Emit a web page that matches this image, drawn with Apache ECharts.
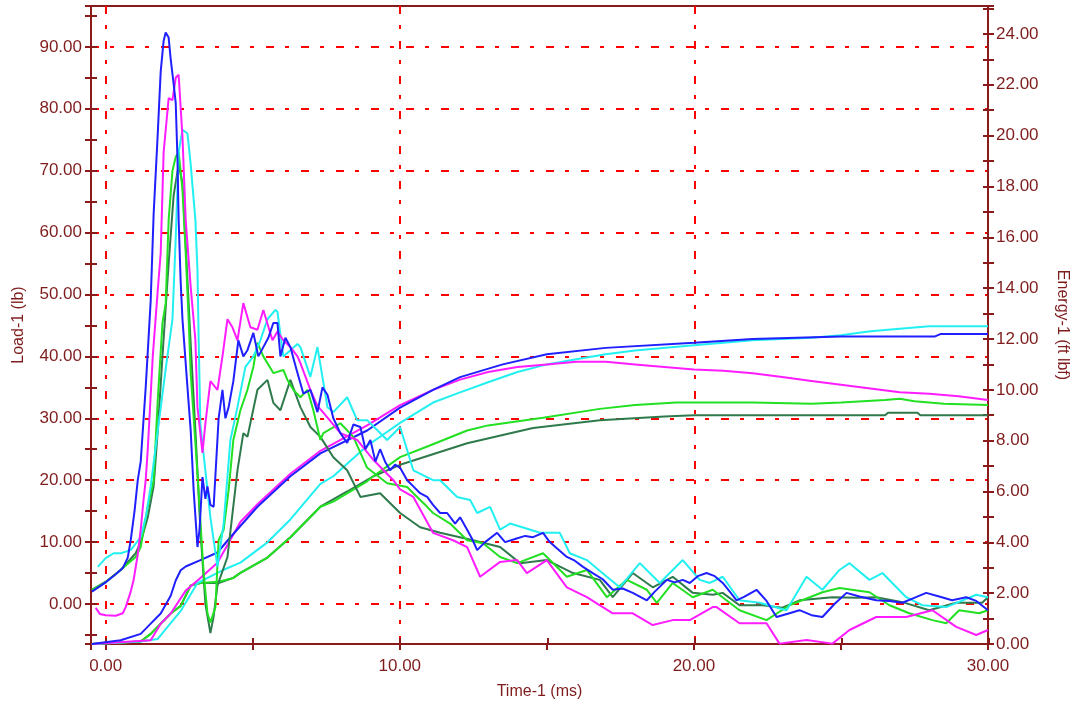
<!DOCTYPE html>
<html>
<head>
<meta charset="utf-8">
<title>Load / Energy vs Time</title>
<script src="https://cdn.jsdelivr.net/npm/echarts@6/dist/echarts.min.js"></script>
<style>
  html, body { margin: 0; padding: 0; background: #fff; }
  #chart { width: 1078px; height: 713px; }
</style>
</head>
<body>
<div id="chart"></div>
<script>
// axis ranges and tick labels
var timeRange = [-0.5, 30];
var loadRange = [-6.46, 96.6];
var energyRange = [0, 25.1];
var timeLabels = [0, 10, 20, 30];
var loadLabels = [0, 10, 20, 30, 40, 50, 60, 70, 80, 90];
var energyLabels = [0, 2, 4, 6, 8, 10, 12, 14, 16, 18, 20, 22, 24];

// Load-1 (lb) curves, [time ms, load lb]
var loadBlue = [[-0.47,2.0],[0,3.5],[0.34,4.8],[0.58,5.8],[0.75,7.5],[0.85,10.3],[0.98,15],[1.09,20],[1.19,23],[1.36,35],[1.53,49],[1.63,63],[1.77,76],[1.87,86],[1.97,91],[2.04,92.3],[2.14,91.5],[2.21,88],[2.31,84],[2.38,81],[2.44,72],[2.48,62],[2.55,52],[2.61,46],[2.78,35],[2.89,28],[2.99,18.4],[3.12,9.2],[3.19,12],[3.29,20.5],[3.39,17],[3.46,19],[3.56,16],[3.67,15.7],[3.84,30],[3.97,34.6],[4.07,30],[4.18,31.8],[4.34,36],[4.51,42.6],[4.68,40],[4.82,41],[5.02,43.8],[5.19,40],[5.36,41.5],[5.53,43],[5.70,45.4],[5.84,45.4],[5.94,40],[6.11,43],[6.28,41.5],[6.48,38],[6.72,34],[6.96,34.6],[7.20,31],[7.37,35],[7.54,33.8],[7.74,30],[7.98,27.6],[8.21,26],[8.42,29],[8.66,28.6],[8.83,25],[9.00,26.5],[9.17,23],[9.33,25],[9.50,23],[9.67,21.6],[9.84,22.5],[10.01,22],[10.25,20],[10.46,19],[10.69,17.9],[10.93,17.3],[11.13,16],[11.37,14.7],[11.61,14.7],[11.88,13],[12.05,14],[12.29,12],[12.46,10.5],[12.63,8.7],[12.90,10],[13.31,11.5],[13.58,10],[13.92,10.5],[14.26,11],[14.53,10.8],[14.87,11.5],[15.10,10],[15.34,9],[15.68,7.6],[15.95,7],[16.23,6],[16.56,5],[16.90,4],[17.24,2.3],[17.58,2.5],[17.92,1.8],[18.16,1.2],[18.40,0.6],[18.67,2],[19.08,3.9],[19.35,3.5],[19.62,3.9],[19.86,3.4],[20.13,4.5],[20.43,5],[20.71,4.5],[20.98,3.4],[21.22,2],[21.45,0.6],[21.72,1.2],[22.13,2.3],[22.47,0.5],[22.81,-2.1],[23.25,-1.5],[23.59,-1],[24.00,-1.8],[24.37,-2.1],[24.78,0],[25.19,1.8],[25.63,1.2],[26.20,0.6],[26.65,0.5],[27.09,0.2],[27.49,1],[27.90,1.8],[28.34,1.2],[28.78,0.6],[29.26,1.1],[29.60,0.5],[30.00,-1]];
var loadMagenta = [[-0.34,-0.6],[-0.2,-1.6],[0,-1.8],[0.34,-1.9],[0.58,-1.5],[0.68,-0.5],[0.85,2],[0.95,3.9],[1.09,8],[1.19,12],[1.29,17],[1.36,20],[1.43,25],[1.60,40],[1.77,50.7],[1.87,56.7],[1.97,73],[2.14,81.7],[2.27,81.4],[2.38,85],[2.48,85.5],[2.61,75.5],[2.72,62],[2.89,51.2],[3.05,42.6],[3.12,31.8],[3.29,24.4],[3.39,29.2],[3.56,36],[3.80,34.6],[3.97,40],[4.14,46],[4.31,44.7],[4.48,42.6],[4.68,48.6],[4.92,44.7],[5.16,44.3],[5.36,47.5],[5.67,42.6],[5.84,44],[6.04,42.6],[6.28,41.5],[6.52,40],[6.62,38.9],[6.96,34.6],[7.20,32],[7.40,30.9],[7.98,27.6],[8.55,26.5],[9.10,23.3],[9.78,20],[10.01,18.5],[10.46,17.3],[11.13,11.5],[11.81,10.3],[12.29,9.2],[12.73,4.4],[13.41,6.8],[13.99,7.1],[14.32,5],[15.00,7.1],[15.68,2.7],[16.36,1.1],[17.24,-1.5],[17.92,-1.5],[18.60,-3.4],[19.28,-2.6],[19.86,-2.6],[20.64,-0.5],[20.77,-0.5],[21.55,-3.1],[22.47,-3.1],[22.91,-6.4],[23.83,-5.8],[24.71,-6.4],[25.29,-4.2],[26.20,-2.1],[27.22,-2.1],[28.11,-1],[28.92,-3.7],[29.60,-5],[30.00,-4.2]];
var loadCyan = [[-0.27,6],[0,7.4],[0.27,8.2],[0.51,8.2],[0.85,8.7],[1.19,10.8],[1.36,14],[1.53,19],[1.77,28],[2.04,38],[2.27,46],[2.38,59],[2.48,73],[2.61,76.6],[2.78,76],[2.89,71],[3.05,62],[3.12,54],[3.16,43],[3.22,29],[3.56,14],[3.80,6],[4.01,13],[4.24,26.5],[4.48,31.8],[4.75,38.3],[5.02,40],[5.26,42.6],[5.50,46],[5.77,47.5],[5.84,47.2],[6.04,40],[6.52,42],[6.62,41.5],[6.96,36.7],[7.20,41.5],[7.54,31.8],[7.74,31],[8.21,33.4],[8.55,29.7],[8.89,29.7],[9.57,26.5],[10.01,28.6],[10.46,21.6],[11.13,20],[11.37,20],[11.95,17.3],[12.39,16.8],[12.63,14.7],[13.07,15.7],[13.41,12],[13.75,13],[14.77,11.5],[15.44,11.5],[15.78,8.2],[16.36,7.1],[17.04,4.4],[17.48,2.7],[18.16,6.6],[18.84,3.4],[19.62,7.1],[20.20,3.9],[20.54,3.4],[20.98,4.4],[21.55,0.6],[22.23,0.2],[23.15,-1],[23.83,4.4],[24.37,2.3],[24.95,5.5],[25.29,6.6],[25.97,3.9],[26.41,5],[27.22,1.1],[27.77,-0.2],[28.58,-0.5],[29.60,1.5],[30.00,1.1]];
var loadGreen = [[-0.47,2.3],[0,3.5],[0.51,5.5],[0.75,6.5],[1.02,7.6],[1.19,9.2],[1.43,15.7],[1.63,20],[1.77,33],[1.93,45.4],[2.04,48.6],[2.14,62],[2.27,70],[2.38,72.2],[2.48,73],[2.61,67],[2.72,56.7],[2.82,46],[2.89,37.3],[3.12,21],[3.33,5],[3.46,-1.5],[3.56,-3],[3.73,-0.5],[3.84,10.3],[4.01,12],[4.18,18.4],[4.34,26.5],[4.58,31.3],[4.82,34.6],[5.02,38.3],[5.16,42.2],[5.36,40],[5.70,37.3],[6.04,37.8],[6.18,36.2],[6.38,34.6],[6.62,33.4],[6.86,34.6],[7.06,31.3],[7.30,26.5],[7.40,27.6],[7.98,29.2],[8.42,27],[8.89,22],[9.57,19.5],[10.25,18.9],[10.46,17.9],[10.93,15.7],[11.13,14.7],[11.71,13],[12.29,10.3],[12.83,9.8],[13.41,7.6],[13.99,6.6],[14.87,8.2],[15.68,4.4],[16.36,5.5],[17.04,1.1],[17.72,3.9],[18.40,2.3],[18.74,0.2],[19.28,3.4],[19.96,1.1],[20.64,2.3],[21.55,-1],[22.47,-2.6],[23.25,-0.2],[24.37,1.9],[24.95,2.6],[25.97,1.9],[26.65,-0.2],[27.32,-1.5],[28.11,-2.6],[28.58,-3.1],[29.02,-1],[29.70,-1.5],[30.00,-1]];
var loadDarkGreen = [[-0.47,2.3],[0,3.6],[0.51,5.5],[1.02,8.2],[1.19,10],[1.43,14],[1.63,19],[1.77,28],[1.93,40],[2.14,55],[2.31,66],[2.48,71],[2.61,68],[2.72,58],[2.89,42],[3.05,28],[3.22,12],[3.39,0],[3.56,-4.7],[3.67,-2],[3.80,3],[4.14,7.6],[4.48,21.6],[4.68,27.6],[4.82,27],[5.16,34.6],[5.50,36.2],[5.70,32.5],[5.94,31.3],[6.28,36.2],[6.62,31.8],[6.96,28.6],[7.30,27],[7.74,23.7],[8.21,21.6],[8.66,17.3],[9.33,17.9],[10.01,14.7],[10.69,12.4],[11.37,11.5],[12.49,10.3],[13.41,9.2],[14.09,6.6],[15.00,7.1],[15.89,5],[16.80,3.9],[17.24,1.1],[17.92,5],[18.60,2.7],[19.28,4.4],[19.96,1.8],[20.64,1.5],[20.98,1.8],[21.55,-0.2],[22.34,-0.2],[23.01,-0.6],[23.59,0.6],[24.71,1.1],[25.53,1],[26.20,1.1],[27.09,0.3],[28.00,-1],[28.92,0.2],[29.80,0.2],[30.00,1.1]];

// Energy-1 (ft lbf) curves, [time ms, energy ft lbf]
var energyBlue = [[-0.47,0],[0.51,0.15],[1.19,0.4],[1.53,0.8],[1.87,1.2],[2.21,1.9],[2.38,2.5],[2.55,2.9],[2.72,3.05],[3.22,3.3],[3.80,3.6],[4.24,4.2],[5.16,5.4],[6.28,6.6],[7.30,7.5],[8.89,8.4],[10.01,9.3],[11.13,10.0],[12.05,10.5],[13.5,11.0],[15.0,11.4],[17.0,11.65],[20.0,11.85],[22.0,12.0],[25.0,12.1],[28.2,12.1],[28.4,12.2],[30.0,12.2]];
var energyMagenta = [[-0.47,0],[1.53,0.15],[1.87,0.8],[2.21,1.2],[2.72,2.1],[3.22,2.6],[3.80,3.2],[4.58,4.8],[5.16,5.5],[6.28,6.7],[7.30,7.6],[8.89,8.6],[10.01,9.4],[11.13,10.0],[12.05,10.4],[13.0,10.7],[14.0,10.9],[15.0,11.0],[16.0,11.1],[17.0,11.1],[18.0,11.0],[19.0,10.9],[20.0,10.8],[21.0,10.75],[22.0,10.65],[23.0,10.5],[24.0,10.35],[25.0,10.2],[26.0,10.05],[27.0,9.9],[28.0,9.85],[29.0,9.75],[30.0,9.6]];
var energyCyan = [[-0.47,0],[1.19,0.1],[1.77,0.2],[2.55,1.3],[3.12,2.4],[3.97,2.9],[4.58,3.2],[5.50,4.0],[6.28,4.9],[7.30,6.3],[7.74,6.6],[8.89,7.8],[10.01,8.7],[11.13,9.5],[12.05,9.9],[13.0,10.3],[14.0,10.7],[15.0,11.0],[16.0,11.2],[17.0,11.4],[18.0,11.55],[20.0,11.75],[22.0,11.95],[24.0,12.05],[25.0,12.15],[26.0,12.3],[27.0,12.4],[28.0,12.5],[30.0,12.5]];
var energyGreen = [[-0.47,0],[1.19,0.1],[1.53,0.4],[2.21,1.2],[2.55,1.5],[2.89,2.3],[3.22,2.4],[3.84,2.45],[4.34,2.6],[4.58,2.8],[5.50,3.4],[6.28,4.2],[7.30,5.4],[7.74,5.6],[8.89,6.4],[9.10,6.6],[10.01,7.35],[11.0,7.8],[12.29,8.4],[13.0,8.6],[14.87,8.9],[16.80,9.25],[18.0,9.4],[19.4,9.5],[22.0,9.5],[24.0,9.45],[25.0,9.5],[26.5,9.6],[27.0,9.65],[27.5,9.55],[28.5,9.45],[30.0,9.4]];
var energyDarkGreen = [[-0.47,0],[1.19,0.1],[1.53,0.4],[2.21,1.2],[2.55,1.5],[2.89,2.3],[3.22,2.4],[3.84,2.4],[4.34,2.6],[4.58,2.8],[5.50,3.4],[6.28,4.2],[7.30,5.4],[8.21,6.0],[9.10,6.6],[10.01,7.05],[12.29,7.9],[14.53,8.5],[16.80,8.8],[19.0,8.95],[20.0,9.0],[26.5,9.0],[26.6,9.1],[27.6,9.1],[27.7,9.0],[30.0,9.0]];

var MAROON = '#7f1d1d';
var AXIS_DARK = '#8b1a1a';
var FONT = '"Liberation Sans", Arial, sans-serif';
var COLORS = {
  blue: '#1f1fff',
  magenta: '#ff1cff',
  cyan: '#22f0f0',
  green: '#22e022',
  darkGreen: '#2f7a4c'
};

function inList(list) {
  return function (v) {
    for (var i = 0; i < list.length; i++) {
      if (Math.abs(list[i] - v) < 1e-6) return v.toFixed(2);
    }
    return '';
  };
}

var plotBox = { left: 91, right: 89, top: 6, bottom: 69 };
var tickStyle = { color: AXIS_DARK, width: 2 };
var gridDash = { color: '#ff0000', width: 2, type: [8, 11, 4, 12] };

function lineSeries(name, data, color, yIdx) {
  return {
    name: name,
    type: 'line',
    xAxisIndex: 0,
    yAxisIndex: yIdx,
    data: data,
    showSymbol: false,
    symbol: 'none',
    clip: true,
    lineStyle: { color: color, width: 2 },
    itemStyle: { color: color },
    emphasis: { disabled: true },
    silent: true
  };
}

var myChart = echarts.init(document.getElementById('chart'), null, { renderer: 'canvas' });

var option = {
  animation: false,
  backgroundColor: '#fff',
  textStyle: { fontFamily: FONT },
  grid: [
    // main plot, maroon frame
    Object.assign({ show: true, borderColor: AXIS_DARK, borderWidth: 2, backgroundColor: 'transparent' }, plotBox),
    // inner halves of the tick marks
    Object.assign({}, plotBox),
    // dashed grid lines
    Object.assign({}, plotBox)
  ],
  xAxis: [
    {
      gridIndex: 0, type: 'value', position: 'bottom',
      min: timeRange[0], max: timeRange[1], splitNumber: 6,
      name: 'Time-1 (ms)', nameLocation: 'middle', nameGap: 40,
      nameTextStyle: { color: MAROON, fontSize: 16, fontFamily: FONT },
      axisLine: { show: true, onZero: false, lineStyle: { color: AXIS_DARK, width: 2 } },
      axisTick: { show: true, inside: false, length: 6, lineStyle: tickStyle },
      axisLabel: { color: MAROON, fontSize: 17, fontFamily: FONT, margin: 14, formatter: inList(timeLabels) },
      splitLine: { show: false }
    },
    {
      gridIndex: 1, type: 'value', position: 'bottom',
      min: timeRange[0], max: timeRange[1], splitNumber: 6,
      axisLine: { show: false, onZero: false },
      axisTick: { show: true, inside: true, length: 6, lineStyle: tickStyle },
      axisLabel: { show: false },
      splitLine: { show: false }
    },
    {
      gridIndex: 2, type: 'value', position: 'bottom',
      min: timeRange[0], max: timeRange[1], splitNumber: 3,
      axisLine: { show: false, onZero: false }, axisTick: { show: false }, axisLabel: { show: false },
      splitLine: { show: true, showMinLine: false, showMaxLine: false, lineStyle: gridDash }
    }
  ],
  yAxis: [
    {
      gridIndex: 0, type: 'value', position: 'left',
      min: loadRange[0], max: loadRange[1], splitNumber: 20,
      name: 'Load-1 (lb)', nameLocation: 'middle', nameGap: 64, nameRotate: 90,
      nameTextStyle: { color: MAROON, fontSize: 16, fontFamily: FONT },
      axisLine: { show: true, onZero: false, lineStyle: { color: AXIS_DARK, width: 2 } },
      axisTick: { show: true, inside: false, length: 6, lineStyle: tickStyle },
      axisLabel: { color: MAROON, fontSize: 17, fontFamily: FONT, margin: 9, formatter: inList(loadLabels) },
      splitLine: { show: false }
    },
    {
      gridIndex: 0, type: 'value', position: 'right',
      min: energyRange[0], max: energyRange[1], splitNumber: 25,
      name: 'Energy-1 (ft lbf)', nameLocation: 'middle', nameGap: 66, nameRotate: -90,
      nameTextStyle: { color: MAROON, fontSize: 16, fontFamily: FONT },
      axisLine: { show: true, onZero: false, lineStyle: { color: AXIS_DARK, width: 2 } },
      axisTick: { show: true, inside: false, length: 6, lineStyle: tickStyle },
      axisLabel: { color: MAROON, fontSize: 17, fontFamily: FONT, margin: 8, formatter: inList(energyLabels) },
      splitLine: { show: false }
    },
    {
      gridIndex: 1, type: 'value', position: 'left',
      min: loadRange[0], max: loadRange[1], splitNumber: 20,
      axisLine: { show: false, onZero: false },
      axisTick: { show: true, inside: true, length: 6, lineStyle: tickStyle },
      axisLabel: { show: false }, splitLine: { show: false }
    },
    {
      gridIndex: 1, type: 'value', position: 'right',
      min: energyRange[0], max: energyRange[1], splitNumber: 25,
      axisLine: { show: false, onZero: false },
      axisTick: { show: true, inside: true, length: 6, lineStyle: tickStyle },
      axisLabel: { show: false }, splitLine: { show: false }
    },
    {
      gridIndex: 2, type: 'value', position: 'left',
      min: loadRange[0], max: loadRange[1], splitNumber: 10,
      axisLine: { show: false, onZero: false }, axisTick: { show: false }, axisLabel: { show: false },
      splitLine: { show: true, showMinLine: false, showMaxLine: false, lineStyle: gridDash }
    }
  ],
  series: [
    lineSeries('Energy dark green', energyDarkGreen, COLORS.darkGreen, 1),
    lineSeries('Energy green', energyGreen, COLORS.green, 1),
    lineSeries('Energy cyan', energyCyan, COLORS.cyan, 1),
    lineSeries('Energy magenta', energyMagenta, COLORS.magenta, 1),
    lineSeries('Energy blue', energyBlue, COLORS.blue, 1),
    lineSeries('Load dark green', loadDarkGreen, COLORS.darkGreen, 0),
    lineSeries('Load green', loadGreen, COLORS.green, 0),
    lineSeries('Load cyan', loadCyan, COLORS.cyan, 0),
    lineSeries('Load magenta', loadMagenta, COLORS.magenta, 0),
    lineSeries('Load blue', loadBlue, COLORS.blue, 0)
  ]
};

myChart.setOption(option);
</script>
</body>
</html>
